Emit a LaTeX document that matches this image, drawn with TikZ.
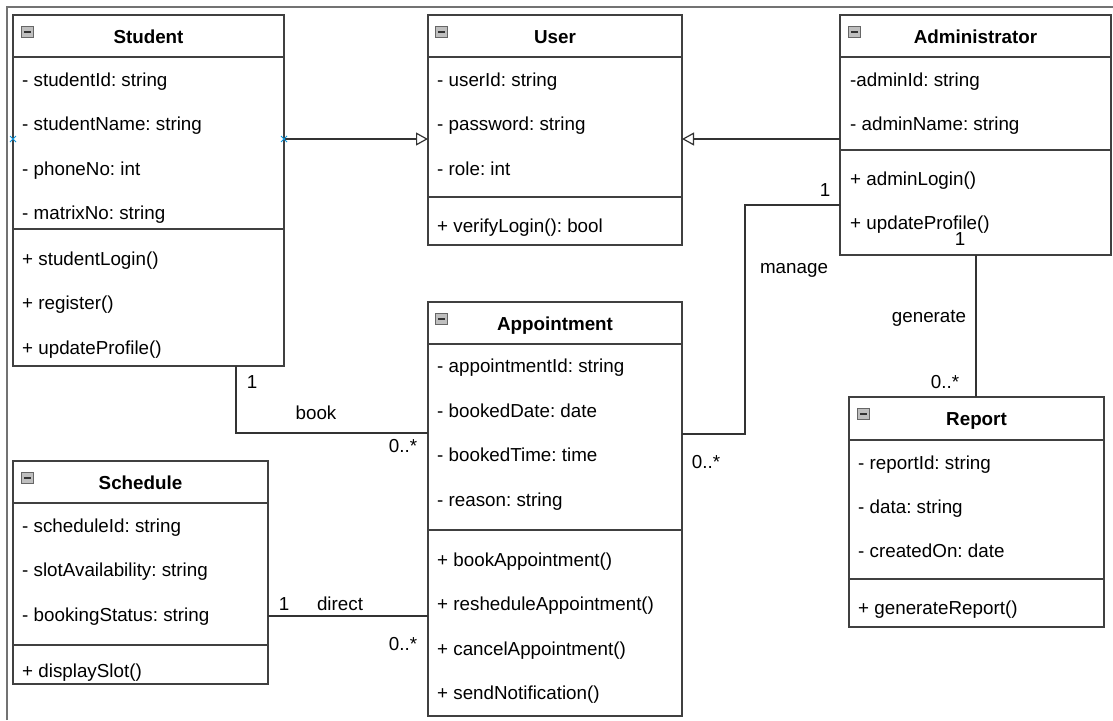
\documentclass[tikz,border=0pt]{standalone}
\usepackage{fontspec}
\setmainfont{Liberation Sans}
\usetikzlibrary{positioning,arrows.meta,shapes.misc}
\frenchspacing

\begin{document}
\begin{tikzpicture}[x=1pt,y=-1pt,
    font=\fontsize{18.8}{22}\selectfont,
    classbox/.style={draw=black!75, line width=1.4pt, anchor=north west, inner sep=0pt, outer sep=0pt},
    sepline/.style={draw=black!75, line width=1.4pt},
    toggle/.style={draw=black!60, fill=black!25, line width=0.9pt, anchor=north west, inner sep=0pt,
      minimum width=12pt, minimum height=11pt,
      path picture={\draw[black!80, line width=1.4pt] ([xshift=2.5pt]path picture bounding box.west) -- ([xshift=-2.5pt]path picture bounding box.east);}},
    title/.style={font=\fontsize{18.8}{22}\selectfont\bfseries, anchor=base, inner sep=0pt},
    member/.style={anchor=base west, inner sep=0pt},
    mult/.style={inner sep=0pt},
    assoc/.style={draw=black!80, line width=1.2pt},
    inherit/.style={assoc, -{Triangle[open, length=12pt, width=13pt, line width=1.2pt]}},
    pin/.style={cross out, draw=cyan!80!blue, line width=1pt, minimum size=5pt, inner sep=0pt}]

  \useasboundingbox (0,0) rectangle (1113,720);
  \draw[black!55, line width=1.2pt] (7,720) -- (7,7) -- (1113,7);

  \node[classbox, minimum width=271, minimum height=351] (student) at (13,15) {};
  \node[toggle] (student-tg) at (21,26) {};
  \node[title] (student-t) at (148.5,43) {Student};
  \draw[sepline] (student.west |- 0,57) -- (student.east |- 0,57);
  \draw[sepline] (student.west |- 0,229) -- (student.east |- 0,229);
  \foreach \t [count=\i] in {- studentId: string, - studentName: string, - phoneNo: int, - matrixNo: string}
    \node[member] (student-a\i) at (22,41.4+44.6*\i) {\t};
  \foreach \t [count=\i] in {+ studentLogin(), + register(), + updateProfile()}
    \node[member] (student-m\i) at (22,220.5+44.5*\i) {\t};

  \node[classbox, minimum width=254, minimum height=230] (user) at (428,15) {};
  \node[toggle] (user-tg) at (435,26) {};
  \node[title] (user-t) at (555,43) {User};
  \draw[sepline] (user.west |- 0,57) -- (user.east |- 0,57);
  \draw[sepline] (user.west |- 0,197) -- (user.east |- 0,197);
  \foreach \t [count=\i] in {- userId: string, - password: string, - role: int}
    \node[member] (user-a\i) at (437,41.4+44.6*\i) {\t};
  \node[member] (user-m1) at (437,232) {+ verifyLogin(): bool};

  \node[classbox, minimum width=271, minimum height=240] (admin) at (840,15) {};
  \node[toggle] (admin-tg) at (848,26) {};
  \node[title] (admin-t) at (975.5,43) {Administrator};
  \draw[sepline] (admin.west |- 0,57) -- (admin.east |- 0,57);
  \draw[sepline] (admin.west |- 0,150) -- (admin.east |- 0,150);
  \foreach \t [count=\i] in {-adminId: string, - adminName: string}
    \node[member] (admin-a\i) at (850,41.4+44.6*\i) {\t};
  \foreach \t [count=\i] in {+ adminLogin(), + updateProfile()}
    \node[member] (admin-m\i) at (850,140.5+44.5*\i) {\t};

  \node[classbox, minimum width=254, minimum height=414] (appointment) at (428,302) {};
  \node[toggle] (appointment-tg) at (435,313) {};
  \node[title] (appointment-t) at (555,330) {Appointment};
  \draw[sepline] (appointment.west |- 0,344) -- (appointment.east |- 0,344);
  \draw[sepline] (appointment.west |- 0,530) -- (appointment.east |- 0,530);
  \foreach \t [count=\i] in {- appointmentId: string, - bookedDate: date, - bookedTime: time, - reason: string}
    \node[member] (appointment-a\i) at (437,328.4+44.5*\i) {\t};
  \foreach \t [count=\i] in {+ bookAppointment(), + resheduleAppointment(), + cancelAppointment(), + sendNotification()}
    \node[member] (appointment-m\i) at (437,521.5+44.6*\i) {\t};

  \node[classbox, minimum width=255, minimum height=223] (schedule) at (13,461) {};
  \node[toggle] (schedule-tg) at (21,472) {};
  \node[title] (schedule-t) at (140.5,489) {Schedule};
  \draw[sepline] (schedule.west |- 0,503) -- (schedule.east |- 0,503);
  \draw[sepline] (schedule.west |- 0,645) -- (schedule.east |- 0,645);
  \foreach \t [count=\i] in {- scheduleId: string, - slotAvailability: string, - bookingStatus: string}
    \node[member] (schedule-a\i) at (22,487.5+44.5*\i) {\t};
  \node[member] (schedule-m1) at (22,677) {+ displaySlot()};

  \node[classbox, minimum width=255, minimum height=230] (report) at (849,397) {};
  \node[toggle] (report-tg) at (857,408) {};
  \node[title] (report-t) at (976.5,425) {Report};
  \draw[sepline] (report.west |- 0,440) -- (report.east |- 0,440);
  \draw[sepline] (report.west |- 0,579) -- (report.east |- 0,579);
  \foreach \t [count=\i] in {- reportId: string, - data: string, - createdOn: date}
    \node[member] (report-a\i) at (858,425+44*\i) {\t};
  \node[member] (report-m1) at (858,614) {+ generateReport()};

  \draw[inherit] (student.east |- 0,139) -- (user.west |- 0,139);
  \draw[inherit] (admin.west |- 0,139) -- (user.east |- 0,139);
  \node[pin] (student-p1) at (student.west |- 0,139) {};
  \node[pin] (student-p2) at (student.east |- 0,139) {};

  \draw[assoc] (admin.west |- 0,205) -| (745,320) |- (appointment.east |- 0,434);
  \node[mult] (manage-m1) at (825,190) {1};
  \node[mult] (manage-l) at (794,270) {manage};
  \node[mult] (manage-m2) at (706,462) {0..*};

  \draw[assoc] (student.south -| 236,0) |- (appointment.west |- 0,433);
  \node[mult] (book-m1) at (252,382) {1};
  \node[mult] (book-l) at (316,413) {book};
  \node[mult] (book-m2) at (403,446) {0..*};

  \draw[assoc] (schedule.east |- 0,616) -- (appointment.west |- 0,616);
  \node[mult] (direct-m1) at (284,604) {1};
  \node[mult] (direct-l) at (340,604) {direct};
  \node[mult] (direct-m2) at (403,644) {0..*};

  \draw[assoc] (admin.south -| 976,0) -- (report.north -| 976,0);
  \node[mult] (generate-m1) at (960,239) {1};
  \node[mult] (generate-l) at (929,318) {generate};
  \node[mult] (generate-m2) at (945,382) {0..*};

\end{tikzpicture}
\end{document}
